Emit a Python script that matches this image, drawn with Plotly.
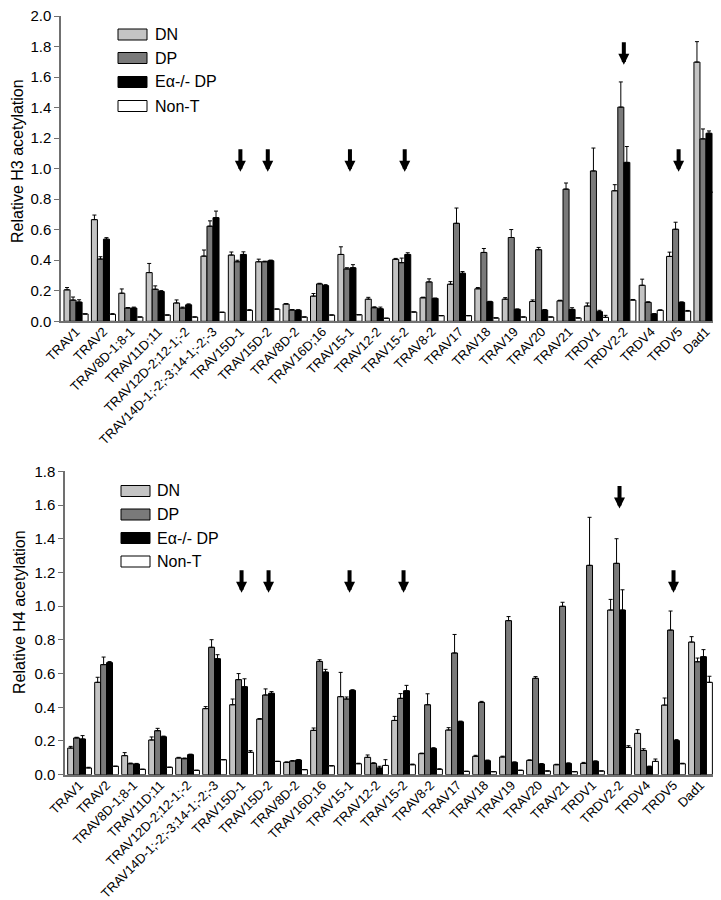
import plotly.graph_objects as go

categories = ["TRAV1", "TRAV2", "TRAV8D-1;8-1", "TRAV11D;11", "TRAV12D-2;12-1;-2",
              "TRAV14D-1;-2;-3;14-1;-2;-3", "TRAV15D-1", "TRAV15D-2", "TRAV8D-2",
              "TRAV16D;16", "TRAV15-1", "TRAV12-2", "TRAV15-2", "TRAV8-2", "TRAV17",
              "TRAV18", "TRAV19", "TRAV20", "TRAV21", "TRDV1", "TRDV2-2", "TRDV4",
              "TRDV5", "Dad1"]
series_names = ["DN", "DP", "Eα-/- DP", "Non-T"]

# H3 panel
h3_dn = [0.206, 0.666, 0.184, 0.319, 0.120, 0.427, 0.434, 0.390, 0.113, 0.165, 0.438, 0.145,
         0.406, 0.154, 0.243, 0.213, 0.145, 0.130, 0.134, 0.100, 0.855, 0.236, 0.425, 1.698]
h3_dn_err = [0.015, 0.030, 0.028, 0.060, 0.020, 0.040, 0.020, 0.017, 0.003, 0.017, 0.050, 0.012,
             0.006, 0.004, 0.017, 0.008, 0.010, 0.010, 0.004, 0.020, 0.040, 0.040, 0.028, 0.134]
h3_dp = [0.139, 0.408, 0.087, 0.210, 0.087, 0.623, 0.390, 0.390, 0.074, 0.245, 0.343, 0.089,
         0.384, 0.258, 0.642, 0.451, 0.549, 0.469, 0.866, 0.985, 1.403, 0.124, 0.603, 1.195]
h3_dp_err = [0.020, 0.015, 0.003, 0.022, 0.006, 0.035, 0.010, 0.004, 0.003, 0.004, 0.008, 0.006,
             0.030, 0.020, 0.100, 0.026, 0.052, 0.015, 0.040, 0.150, 0.165, 0.004, 0.046, 0.065]
h3_ea = [0.126, 0.538, 0.087, 0.195, 0.108, 0.679, 0.438, 0.397, 0.072, 0.234, 0.351, 0.082,
         0.438, 0.150, 0.315, 0.128, 0.078, 0.074, 0.078, 0.063, 1.041, 0.048, 0.124, 1.232]
h3_ea_err = [0.015, 0.010, 0.006, 0.006, 0.006, 0.043, 0.017, 0.004, 0.004, 0.006, 0.020, 0.011,
             0.011, 0.002, 0.011, 0.003, 0.003, 0.003, 0.011, 0.009, 0.104, 0.002, 0.003, 0.015]
h3_nt = [0.048, 0.046, 0.028, 0.041, 0.028, 0.059, 0.072, 0.080, 0.028, 0.041, 0.043, 0.020,
         0.061, 0.037, 0.037, 0.022, 0.028, 0.028, 0.022, 0.026, 0.139, 0.072, 0.067, 0.846]
h3_nt_err = [0, 0.004, 0, 0, 0, 0, 0.004, 0, 0, 0, 0, 0,
             0, 0, 0, 0, 0, 0, 0, 0.013, 0.004, 0.003, 0.004, 0.089]

# H4 panel
h4_dn = [0.158, 0.548, 0.113, 0.206, 0.099, 0.392, 0.415, 0.330, 0.073, 0.263, 0.463, 0.103,
         0.322, 0.125, 0.265, 0.109, 0.105, 0.085, 0.059, 0.067, 0.977, 0.245, 0.413, 0.787]
h4_dn_err = [0.010, 0.030, 0.018, 0.018, 0.004, 0.012, 0.034, 0.003, 0.003, 0.014, 0.144, 0.014,
             0.024, 0.003, 0.014, 0.006, 0.005, 0.003, 0.003, 0.006, 0.063, 0.022, 0.042, 0.032]
h4_dp = [0.218, 0.653, 0.065, 0.261, 0.095, 0.756, 0.564, 0.473, 0.081, 0.672, 0.449, 0.067,
         0.453, 0.415, 0.722, 0.429, 0.914, 0.572, 0.999, 1.242, 1.254, 0.144, 0.858, 0.670]
h4_dp_err = [0.004, 0.045, 0.004, 0.014, 0.004, 0.045, 0.036, 0.036, 0.003, 0.010, 0.012, 0.004,
             0.028, 0.065, 0.110, 0.006, 0.024, 0.010, 0.024, 0.285, 0.146, 0.010, 0.113, 0.022]
h4_ea = [0.212, 0.665, 0.063, 0.225, 0.119, 0.688, 0.522, 0.483, 0.087, 0.609, 0.500, 0.040,
         0.498, 0.156, 0.314, 0.083, 0.073, 0.063, 0.067, 0.079, 0.977, 0.047, 0.202, 0.700]
h4_ea_err = [0.020, 0.006, 0.004, 0.004, 0.003, 0.024, 0.047, 0.010, 0.003, 0.016, 0.004, 0.010,
             0.032, 0.004, 0.004, 0.004, 0.003, 0.003, 0.003, 0.003, 0.120, 0.004, 0.006, 0.042]
h4_nt = [0.040, 0.050, 0.032, 0.044, 0.026, 0.089, 0.133, 0.079, 0.030, 0.053, 0.065, 0.055,
         0.059, 0.032, 0.020, 0.018, 0.026, 0.022, 0.018, 0.022, 0.162, 0.079, 0.065, 0.548]
h4_nt_err = [0.004, 0, 0, 0, 0, 0, 0.010, 0, 0, 0, 0.003, 0.034,
             0.004, 0.003, 0, 0, 0, 0, 0, 0, 0.010, 0.014, 0.003, 0.036]

# arrows marking selected gene segments (tip height in data units)
arrow_cats = ["TRAV15D-1", "TRAV15D-2", "TRAV15-1", "TRAV15-2", "TRDV2-2", "TRDV5"]
h3_arrow_tips = [0.98, 0.98, 0.98, 0.98, 1.68, 0.98]
h4_arrow_tips = [1.08, 1.08, 1.08, 1.08, 1.58, 1.08]

colors = ["#c4c4c4", "#7a7a7a", "#000000", "#ffffff"]
FONT = "Liberation Sans, Arial, sans-serif"
W, H = 721, 900
AXC = "#707070"


def px_x(x):
    return x / W


def px_y(y):
    return 1 - y / H


fig = go.Figure()

panels = [
    ("x", "y", [h3_dn, h3_dp, h3_ea, h3_nt], [h3_dn_err, h3_dp_err, h3_ea_err, h3_nt_err]),
    ("x2", "y2", [h4_dn, h4_dp, h4_ea, h4_nt], [h4_dn_err, h4_dp_err, h4_ea_err, h4_nt_err]),
]
for xa, ya, vals, errs in panels:
    for name, v, e, c in zip(series_names, vals, errs, colors):
        fig.add_trace(go.Bar(
            x=categories, y=v, name=name, xaxis=xa, yaxis=ya,
            marker=dict(color=c, line=dict(color="black", width=1)),
            error_y=dict(type="data", array=e, arrayminus=[0] * len(e), symmetric=False,
                         color="black", thickness=1, width=2),
            showlegend=False,
        ))

axis_common = dict(showline=True, linecolor=AXC, linewidth=1.5, showgrid=False,
                   zeroline=False, automargin=False, ticklabeloverflow="allow")
xfont = dict(family=FONT, size=13, color="black")
yfont = dict(family=FONT, size=15, color="black")

fig.update_layout(
    width=W, height=H,
    margin=dict(l=0, r=0, t=0, b=0),
    paper_bgcolor="white", plot_bgcolor="white",
    barmode="group", bargap=0.12, bargroupgap=0,
    xaxis=dict(domain=[px_x(53), 1.0], range=[-0.55, 23.84], anchor="y",
               tickangle=-45, ticks="", tickfont=xfont, ticklabelstandoff=-4,
               **axis_common),
    yaxis=dict(domain=[px_y(313.3), px_y(8)], range=[0, 2.0], anchor="x",
               tickvals=[0, 0.2, 0.4, 0.6, 0.8, 1.0, 1.2, 1.4, 1.6, 1.8, 2.0],
               tickformat=".1f", ticks="outside", ticklen=5, tickcolor=AXC,
               tickfont=yfont, **axis_common),
    xaxis2=dict(domain=[px_x(57), px_x(716)], range=[-0.54, 23.87], anchor="y2",
                tickangle=-45, ticks="", tickfont=xfont, ticklabelstandoff=-4,
                **axis_common),
    yaxis2=dict(domain=[px_y(766.7), px_y(463.3)], range=[0, 1.8], anchor="x2",
                tickvals=[0, 0.2, 0.4, 0.6, 0.8, 1.0, 1.2, 1.4, 1.6, 1.8],
                tickformat=".1f", ticks="outside", ticklen=5, tickcolor=AXC,
                tickfont=yfont, **axis_common),
)

# y axis titles
fig.add_annotation(text="Relative H3 acetylation", xref="paper", yref="paper",
                   x=px_x(9), y=px_y(153), xanchor="center", yanchor="middle",
                   textangle=-90, showarrow=False,
                   font=dict(family=FONT, size=16, color="black"))
fig.add_annotation(text="Relative H4 acetylation", xref="paper", yref="paper",
                   x=px_x(11), y=px_y(604), xanchor="center", yanchor="middle",
                   textangle=-90, showarrow=False,
                   font=dict(family=FONT, size=16, color="black"))

# arrows
for xa, ya, tips in [("x", "y", h3_arrow_tips), ("x2", "y2", h4_arrow_tips)]:
    for cat, tip in zip(arrow_cats, tips):
        fig.add_annotation(x=cat, y=tip, xref=xa, yref=ya, ax=0, ay=-24, text="",
                           showarrow=True, arrowhead=2, arrowsize=0.55, arrowwidth=4,
                           arrowcolor="black")

# legends drawn by hand (wide swatches like the original)
for sx, tx, centers in [(110, 145, [26.5, 50, 74, 98]), (113, 147, [483, 506.5, 530, 553.5])]:
    for name, c, cy in zip(series_names, colors, centers):
        fig.add_shape(type="rect", xref="paper", yref="paper",
                      x0=px_x(sx), x1=px_x(sx + 29), y0=px_y(cy + 5.5), y1=px_y(cy - 5.5),
                      fillcolor=c, line=dict(color="black", width=1))
        fig.add_annotation(text=name, xref="paper", yref="paper", x=px_x(tx), y=px_y(cy),
                           xanchor="left", yanchor="middle", showarrow=False,
                           font=dict(family=FONT, size=16, color="black"))

fig.write_html("out.html")
